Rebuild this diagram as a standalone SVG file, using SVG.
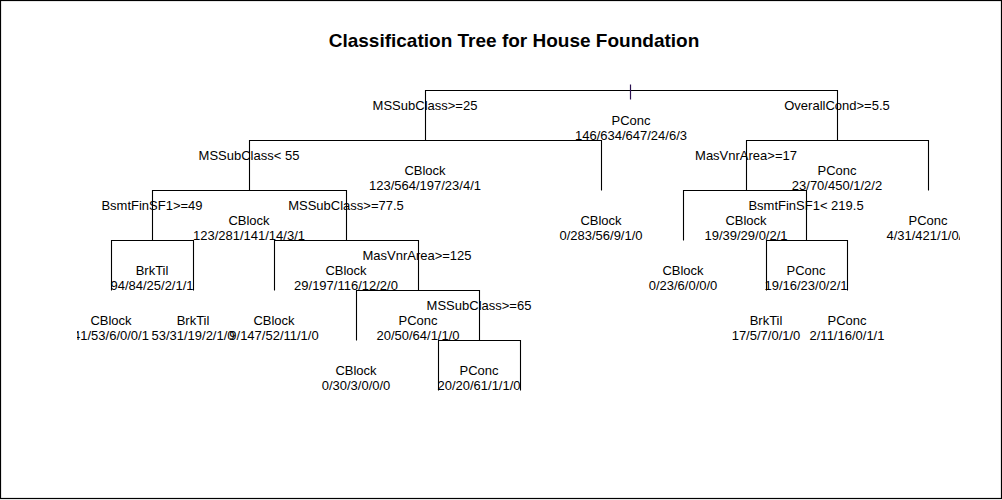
<svg xmlns="http://www.w3.org/2000/svg" width="1002" height="500" viewBox="0 0 1002 500">
<style>
.t{font-family:"Liberation Sans",Arial,sans-serif;font-size:13px;fill:#000;text-anchor:middle}
.title{font-family:"Liberation Sans",Arial,sans-serif;font-size:19px;font-weight:bold;fill:#000;text-anchor:middle}
.e{stroke:#000;stroke-width:1.1;fill:none}
</style>
<defs>
<clipPath id="plot"><rect x="77" y="0" width="883" height="500"/></clipPath>
</defs>
<rect x="0.5" y="0.5" width="1001" height="498" fill="#fff" stroke="#000" stroke-width="1.2"/>
<text class="title" x="514" y="47">Classification Tree for House Foundation</text>
<g id="connectors" transform="translate(0.5,0.5)">
<path class="e" d="M425,140 V90 H837 V140"/>
<path class="e" d="M249,190 V140 H601 V190"/>
<path class="e" d="M152,240 V190 H346 V240"/>
<path class="e" d="M111,290 V240 H193 V290"/>
<path class="e" d="M274,290 V240 H418 V290"/>
<path class="e" d="M356,340 V290 H479 V340"/>
<path class="e" d="M438,390 V340 H520 V390"/>
<path class="e" d="M746,190 V140 H928 V190"/>
<path class="e" d="M683,240 V190 H806 V240"/>
<path class="e" d="M766,290 V240 H847 V290"/>
<line x1="630" y1="84" x2="630" y2="99" stroke="#2a1050" stroke-width="1.2"/>
</g>
<g id="n-root">
<text class="t" x="425" y="110">MSSubClass&gt;=25</text>
<text class="t" x="837" y="110">OverallCond&gt;=5.5</text>
<text class="t" x="631" y="125">PConc</text>
<text class="t" x="631" y="140">146/634/647/24/6/3</text>
</g>
<g id="n-425">
<text class="t" x="249" y="160">MSSubClass&lt; 55</text>
<text class="t" x="425" y="175">CBlock</text>
<text class="t" x="425" y="190">123/564/197/23/4/1</text>
</g>
<g id="n-249">
<text class="t" x="152" y="210">BsmtFinSF1&gt;=49</text>
<text class="t" x="346" y="210">MSSubClass&gt;=77.5</text>
<text class="t" x="249" y="225">CBlock</text>
<text class="t" x="249" y="240">123/281/141/14/3/1</text>
</g>
<g id="n-152">
<text class="t" x="152" y="275">BrkTil</text>
<text class="t" x="152" y="290">94/84/25/2/1/1</text>
</g>
<g id="n-111">
<text class="t" x="111" y="325">CBlock</text>
<text class="t" x="111" y="340" clip-path="url(#plot)">41/53/6/0/0/1</text>
</g>
<g id="n-193">
<text class="t" x="193" y="325">BrkTil</text>
<text class="t" x="193" y="340">53/31/19/2/1/0</text>
</g>
<g id="n-346">
<text class="t" x="417" y="260">MasVnrArea&gt;=125</text>
<text class="t" x="346" y="275">CBlock</text>
<text class="t" x="346" y="290">29/197/116/12/2/0</text>
</g>
<g id="n-274">
<text class="t" x="274" y="325">CBlock</text>
<text class="t" x="274" y="340">9/147/52/11/1/0</text>
</g>
<g id="n-418">
<text class="t" x="479" y="310">MSSubClass&gt;=65</text>
<text class="t" x="418" y="325">PConc</text>
<text class="t" x="418" y="340">20/50/64/1/1/0</text>
</g>
<g id="n-356">
<text class="t" x="356" y="375">CBlock</text>
<text class="t" x="356" y="390">0/30/3/0/0/0</text>
</g>
<g id="n-479">
<text class="t" x="479" y="375">PConc</text>
<text class="t" x="479" y="390">20/20/61/1/1/0</text>
</g>
<g id="n-601">
<text class="t" x="601" y="225">CBlock</text>
<text class="t" x="601" y="240">0/283/56/9/1/0</text>
</g>
<g id="n-837">
<text class="t" x="746" y="160">MasVnrArea&gt;=17</text>
<text class="t" x="837" y="175">PConc</text>
<text class="t" x="837" y="190">23/70/450/1/2/2</text>
</g>
<g id="n-746">
<text class="t" x="806" y="210">BsmtFinSF1&lt; 219.5</text>
<text class="t" x="746" y="225">CBlock</text>
<text class="t" x="746" y="240">19/39/29/0/2/1</text>
</g>
<g id="n-928">
<text class="t" x="928" y="225">PConc</text>
<text class="t" x="928" y="240" clip-path="url(#plot)">4/31/421/1/0/1</text>
</g>
<g id="n-683">
<text class="t" x="683" y="275">CBlock</text>
<text class="t" x="683" y="290">0/23/6/0/0/0</text>
</g>
<g id="n-806">
<text class="t" x="806" y="275">PConc</text>
<text class="t" x="806" y="290">19/16/23/0/2/1</text>
</g>
<g id="n-766">
<text class="t" x="766" y="325">BrkTil</text>
<text class="t" x="766" y="340">17/5/7/0/1/0</text>
</g>
<g id="n-847">
<text class="t" x="847" y="325">PConc</text>
<text class="t" x="847" y="340">2/11/16/0/1/1</text>
</g>
</svg>
